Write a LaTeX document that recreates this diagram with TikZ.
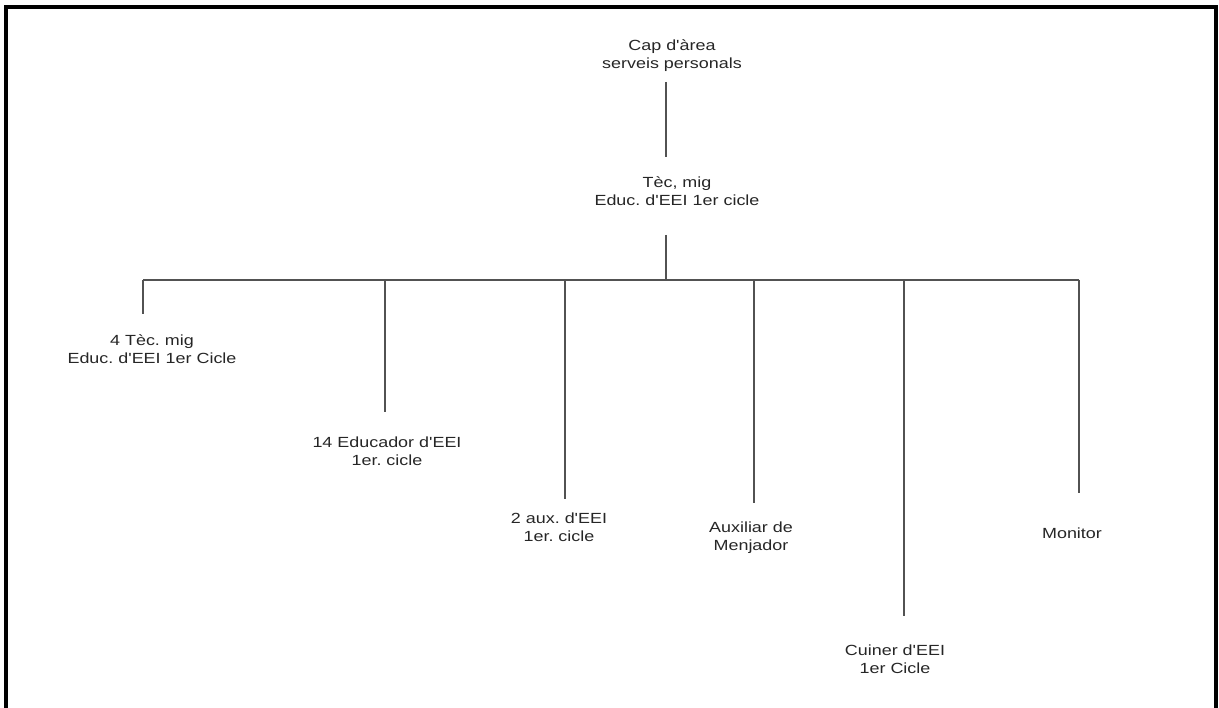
\documentclass[tikz,border=0pt]{standalone}
\usepackage{fontspec}
\setmainfont{Liberation Sans}[FakeStretch=1.22, Ligatures=TeXOff]
\frenchspacing
\begin{document}
\begin{tikzpicture}[x=1pt,y=-1pt,
  lbl/.style={align=center, inner sep=0pt, outer sep=0pt, anchor=north,
              font=\fontsize{14.7}{18}\selectfont\frenchspacing, text=black!85},
  conn/.style={draw=black!68, line width=1.5pt},
  frame/.style={draw=black, line width=4pt}]
\useasboundingbox (0,0) rectangle (1219,708);
\draw[frame] (6,708) -- (6,7) -- (1216,7) -- (1216,708);

\node[lbl] (cap) at (672,40) {Cap d'àrea\\serveis personals};
\node[lbl] (tec) at (677,177) {Tèc, mig\\Educ. d'EEI 1er cicle};

\node[lbl] (n1) at (152,335) {4 Tèc. mig\\Educ. d'EEI 1er Cicle};
\node[lbl] (n2) at (387,437) {14 Educador d'EEI\\1er. cicle};
\node[lbl] (n3) at (559,513) {2 aux. d'EEI\\1er. cicle};
\node[lbl] (n4) at (751,522) {Auxiliar de\\Menjador};
\node[lbl] (n5) at (895,645) {Cuiner d'EEI\\1er Cicle};
\node[lbl] (n6) at (1072,528) {Monitor};

\coordinate (bus) at (666,280);
\coordinate (b1) at (143,280);
\coordinate (b2) at (385,280);
\coordinate (b3) at (565,280);
\coordinate (b4) at (754,280);
\coordinate (b5) at (904,280);
\coordinate (b6) at (1079,280);

\draw[conn, shorten <=10pt, shorten >=20pt] (cap.south -| bus) -- (tec.north -| bus);
\draw[conn, shorten <=29pt] (tec.south -| bus) -- (bus);
\draw[conn] (b1) -- (b6);
\draw[conn, shorten >=21pt] (b1) -- (b1 |- n1.north);
\draw[conn, shorten >=25pt] (b2) -- (b2 |- n2.north);
\draw[conn, shorten >=14pt] (b3) -- (b3 |- n3.north);
\draw[conn, shorten >=19pt] (b4) -- (b4 |- n4.north);
\draw[conn, shorten >=29pt] (b5) -- (b5 |- n5.north);
\draw[conn, shorten >=35pt] (b6) -- (b6 |- n6.north);
\end{tikzpicture}
\end{document}
